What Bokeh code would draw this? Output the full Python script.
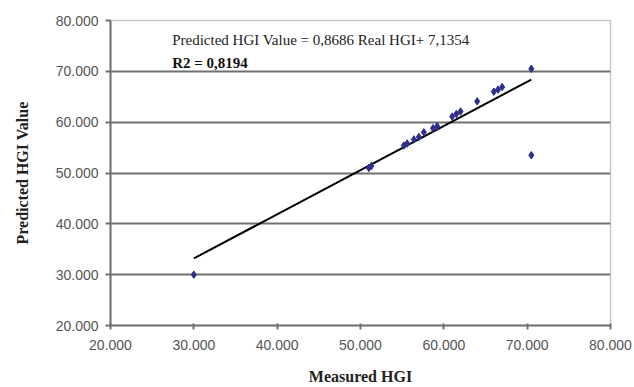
from bokeh.plotting import figure
from bokeh.models import FixedTicker, NumeralTickFormatter, Range1d, ColumnDataSource
from bokeh.core.properties import value
from bokeh.embed import file_html
from bokeh.resources import INLINE
import numpy as np

measured = [30.0, 51.0, 51.3, 55.2, 55.6, 56.4, 57.0, 57.6, 58.7, 59.2, 61.0, 61.5, 62.0, 64.0, 66.0, 66.5, 67.0, 70.5, 70.5]
predicted = [30.0, 51.0, 51.4, 55.4, 55.8, 56.6, 57.1, 58.0, 58.8, 59.2, 61.1, 61.6, 62.1, 64.1, 66.0, 66.4, 66.9, 70.5, 53.5]
slope = 0.8686
intercept = 7.1354
eq_text = "Predicted HGI Value = 0,8686 Real HGI+ 7,1354"
r2_text = "R2 = 0,8194"
ticks = [20, 30, 40, 50, 60, 70, 80]
grid_ticks = [30, 40, 50, 60, 70]

p = figure(width=634, height=387, output_backend="svg", toolbar_location=None,
           x_range=Range1d(20, 80), y_range=Range1d(20, 80),
           min_border_left=110, min_border_right=24, min_border_top=20, min_border_bottom=61)
p.background_fill_color = "white"
p.border_fill_color = "white"
p.outline_line_color = "#c8c8c8"
p.outline_line_width = 1.5

p.xgrid.visible = False
p.ygrid.ticker = FixedTicker(ticks=grid_ticks)
p.ygrid.grid_line_color = "#707070"
p.ygrid.grid_line_width = 2

for ax in (p.xaxis[0], p.yaxis[0]):
    ax.ticker = FixedTicker(ticks=ticks)
    ax.formatter = NumeralTickFormatter(format="0.000")
    ax.axis_line_color = "#707070"
    ax.axis_line_width = 2
    ax.major_tick_line_color = "#707070"
    ax.major_tick_line_width = 2
    ax.minor_tick_line_color = None
    ax.major_label_text_font = "Liberation Sans"
    ax.major_label_text_font_size = "14px"
    ax.major_label_text_color = "#555555"
    ax.axis_label_text_font = "Liberation Serif"
    ax.axis_label_text_font_style = "bold"
    ax.axis_label_text_font_size = "16px"
    ax.axis_label_text_color = "#222222"

p.xaxis.axis_label = "Measured HGI"
p.yaxis.axis_label = "Predicted HGI Value"
p.xaxis.major_tick_in = 2
p.xaxis.major_tick_out = 4
p.yaxis.major_tick_in = 0
p.yaxis.major_tick_out = 5
p.yaxis.major_label_standoff = 7
p.xaxis.major_label_standoff = 10
p.yaxis.axis_label_standoff = 22
p.xaxis.axis_label_standoff = 15

# trend line
lx = np.array([min(measured), max(measured)])
ly = slope * lx + intercept
p.line(lx, ly, line_color="black", line_width=2)

src = ColumnDataSource(data=dict(x=measured, y=predicted))
p.scatter("x", "y", source=src, marker="diamond", size=7.5, fill_color="#2e2e8c", line_color="#2e2e8c")

p.text(x=[27.4], y=[77.7], text=[eq_text], text_font=value("Liberation Serif"),
       text_font_size="15px", text_baseline="top", text_color="#222222")
p.text(x=[27.4], y=[73.2], text=[r2_text], text_font=value("Liberation Serif"),
       text_font_size="15px", text_font_style="bold", text_baseline="top", text_color="#111111")

open("out.html", "w").write(file_html(p, INLINE))
